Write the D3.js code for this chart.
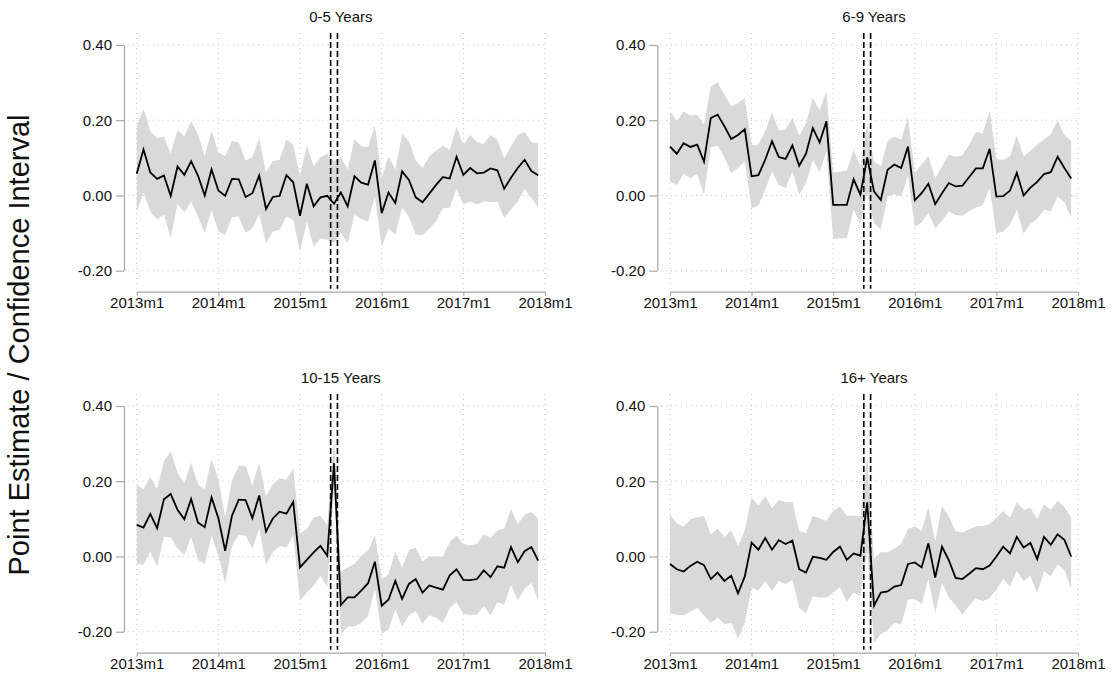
<!DOCTYPE html>
<html>
<head>
<meta charset="utf-8">
<script src="https://cdn.jsdelivr.net/npm/d3@7"></script>
<style>
  body { margin: 0; background: #fff; }
  svg { font-family: "Liberation Sans", Arial, sans-serif; }
  .grid line { stroke: #c4c4c4; stroke-width: 1; stroke-dasharray: 1,4; }
  .axis path, .axis line { stroke: #a6a6a6; stroke-width: 1.2; }
  .axis text { fill: #111; font-size: 15px; }
</style>
</head>
<body>
<div id="chart"></div>
<script>
var width = 1117;
var height = 689;

// months since 2013m1, tick labels
var tickMonths = [0, 12, 24, 36, 48, 60];
var tickLabels = ["2013m1", "2014m1", "2015m1", "2016m1", "2017m1", "2018m1"];
var yTicks = [-0.2, 0, 0.2, 0.4];
var breakLines = [28.5, 29.5];

var titles = ["0-5 Years", "6-9 Years", "10-15 Years", "16+ Years"];

// 0-5 Years
var estA = [0.058,0.122,0.061,0.044,0.053,-0.001,0.077,0.055,0.091,0.053,0.000,0.069,0.013,-0.001,0.044,0.043,-0.004,0.006,0.053,-0.036,
  -0.004,-0.001,0.054,0.035,-0.054,0.031,-0.029,-0.005,-0.001,-0.022,0.008,-0.029,0.051,0.034,0.029,0.093,-0.047,0.008,-0.020,0.064,
  0.041,-0.005,-0.018,0.005,0.028,0.049,0.045,0.103,0.055,0.073,0.059,0.061,0.072,0.067,0.018,0.047,0.073,0.095,0.065,0.054];
var hiA = [0.184,0.231,0.171,0.153,0.156,0.111,0.175,0.157,0.197,0.162,0.104,0.172,0.115,0.104,0.144,0.141,0.093,0.102,0.153,0.061,
  0.091,0.095,0.149,0.135,0.051,0.133,0.077,0.100,0.111,0.091,0.102,0.069,0.150,0.131,0.129,0.186,0.046,0.104,0.069,0.163,
  0.145,0.093,0.073,0.104,0.119,0.132,0.121,0.183,0.135,0.161,0.142,0.137,0.161,0.148,0.098,0.130,0.161,0.169,0.142,0.138];
var loA = [-0.045,0.008,-0.043,-0.063,-0.051,-0.114,-0.022,-0.045,-0.016,-0.056,-0.100,-0.038,-0.096,-0.105,-0.058,-0.056,-0.099,-0.087,-0.050,-0.127,
  -0.096,-0.091,-0.056,-0.065,-0.149,-0.069,-0.136,-0.114,-0.118,-0.127,-0.100,-0.127,-0.051,-0.063,-0.069,-0.003,-0.136,-0.087,-0.105,-0.032,
  -0.057,-0.104,-0.106,-0.088,-0.067,-0.034,-0.032,0.018,-0.024,-0.016,-0.024,-0.016,-0.018,-0.016,-0.059,-0.038,-0.016,0.018,-0.007,-0.031];

// 6-9 Years
var estB = [0.130,0.111,0.139,0.129,0.135,0.090,0.206,0.215,0.184,0.150,0.161,0.176,0.051,0.054,0.095,0.144,0.102,0.097,0.133,0.079,
  0.111,0.179,0.141,0.197,-0.025,-0.025,-0.025,0.043,0.002,0.101,0.011,-0.012,0.068,0.082,0.073,0.130,-0.013,0.006,0.031,-0.023,
  0.006,0.033,0.024,0.026,0.049,0.072,0.072,0.124,-0.003,-0.002,0.013,0.060,0.000,0.021,0.036,0.057,0.062,0.103,0.073,0.045];
var hiB = [0.223,0.197,0.223,0.212,0.215,0.188,0.290,0.301,0.268,0.238,0.246,0.259,0.134,0.135,0.170,0.221,0.173,0.175,0.206,0.159,
  0.192,0.259,0.226,0.277,0.061,0.064,0.066,0.121,0.077,0.188,0.090,0.077,0.144,0.157,0.148,0.208,0.061,0.082,0.105,0.045,
  0.078,0.109,0.103,0.106,0.135,0.169,0.165,0.225,0.096,0.095,0.104,0.159,0.104,0.119,0.135,0.148,0.163,0.199,0.161,0.145];
var loB = [0.037,0.028,0.058,0.046,0.058,0.002,0.129,0.132,0.102,0.059,0.073,0.090,-0.034,-0.027,0.015,0.064,0.028,0.020,0.064,0.002,
  0.033,0.095,0.061,0.117,-0.116,-0.114,-0.114,-0.038,-0.075,0.005,-0.074,-0.090,-0.003,0.004,-0.003,0.052,-0.084,-0.072,-0.045,-0.088,
  -0.067,-0.042,-0.052,-0.054,-0.041,-0.031,-0.026,0.021,-0.101,-0.096,-0.078,-0.038,-0.101,-0.076,-0.062,-0.038,-0.042,-0.003,-0.018,-0.059];

// 10-15 Years
var estC = [0.084,0.077,0.113,0.075,0.152,0.166,0.124,0.099,0.153,0.090,0.078,0.157,0.102,0.015,0.108,0.151,0.150,0.102,0.162,0.066,
  0.101,0.119,0.114,0.145,-0.029,-0.009,0.011,0.028,0.002,0.248,-0.129,-0.109,-0.109,-0.091,-0.071,-0.014,-0.131,-0.115,-0.065,-0.113,
  -0.073,-0.060,-0.096,-0.077,-0.083,-0.088,-0.050,-0.034,-0.062,-0.063,-0.060,-0.037,-0.055,-0.026,-0.030,0.025,-0.015,0.014,0.025,-0.011];
var hiC = [0.191,0.179,0.211,0.179,0.253,0.279,0.223,0.193,0.250,0.191,0.179,0.259,0.206,0.106,0.202,0.241,0.241,0.188,0.249,0.160,
  0.192,0.207,0.204,0.234,0.062,0.074,0.104,0.108,0.082,0.315,-0.041,-0.029,-0.020,0.002,0.015,0.057,-0.060,-0.047,0.012,-0.030,
  0.018,0.023,-0.013,0.000,0.000,0.000,0.038,0.056,0.033,0.030,0.033,0.059,0.049,0.069,0.074,0.126,0.085,0.111,0.118,0.100];
var loC = [-0.020,-0.022,0.013,-0.027,0.051,0.051,0.022,0.004,0.053,-0.009,-0.020,0.055,0.002,-0.071,0.028,0.058,0.056,0.020,0.074,-0.023,
  0.011,0.028,0.024,0.055,-0.118,-0.096,-0.078,-0.051,-0.082,0.180,-0.207,-0.186,-0.186,-0.176,-0.158,-0.085,-0.205,-0.195,-0.140,-0.187,
  -0.156,-0.145,-0.179,-0.156,-0.163,-0.176,-0.137,-0.122,-0.153,-0.155,-0.155,-0.132,-0.156,-0.122,-0.129,-0.075,-0.117,-0.086,-0.070,-0.117];

// 16+ Years
var estD = [-0.020,-0.034,-0.040,-0.025,-0.014,-0.023,-0.060,-0.043,-0.065,-0.051,-0.098,-0.053,0.037,0.018,0.049,0.018,0.043,0.033,0.042,-0.034,
  -0.043,-0.001,-0.004,-0.009,0.012,0.026,-0.009,0.008,0.002,0.144,-0.131,-0.096,-0.093,-0.080,-0.076,-0.020,-0.016,-0.029,0.035,-0.056,
  0.026,-0.010,-0.057,-0.060,-0.046,-0.031,-0.034,-0.024,0.000,0.026,0.008,0.052,0.024,0.036,-0.007,0.052,0.031,0.059,0.044,0.000];
var hiD = [0.110,0.088,0.079,0.099,0.104,0.108,0.058,0.074,0.052,0.070,0.028,0.070,0.157,0.135,0.160,0.128,0.150,0.144,0.145,0.068,
  0.062,0.108,0.101,0.095,0.121,0.133,0.108,0.108,0.106,0.268,-0.007,0.011,0.011,0.021,0.033,0.073,0.080,0.068,0.130,0.040,
  0.134,0.106,0.067,0.064,0.072,0.080,0.081,0.086,0.103,0.121,0.103,0.145,0.124,0.129,0.100,0.139,0.124,0.148,0.131,0.103];
var loD = [-0.151,-0.155,-0.156,-0.147,-0.136,-0.156,-0.177,-0.162,-0.180,-0.176,-0.218,-0.177,-0.082,-0.091,-0.065,-0.091,-0.065,-0.074,-0.062,-0.136,
  -0.151,-0.106,-0.109,-0.109,-0.096,-0.082,-0.121,-0.096,-0.105,0.020,-0.229,-0.207,-0.195,-0.176,-0.180,-0.115,-0.112,-0.127,-0.060,-0.151,
  -0.070,-0.110,-0.129,-0.155,-0.131,-0.111,-0.119,-0.111,-0.088,-0.059,-0.080,-0.038,-0.065,-0.052,-0.098,-0.039,-0.052,-0.021,-0.036,-0.088];

var estimates = [estA, estB, estC, estD];
var uppers = [hiA, hiB, hiC, hiD];
var lowers = [loA, loB, loC, loD];

// panel placement: pixel x of 2013m1 / 2018m1, pixel y of 0.40 / -0.20
var colX = [[136.7, 545], [670, 1078]];
var rowY = [[45, 270.7], [406, 631.7]];

var svg = d3.select("#chart").append("svg")
    .attr("width", width)
    .attr("height", height);

svg.append("text")
    .attr("transform", "translate(29," + 345 + ") rotate(-90)")
    .attr("text-anchor", "middle")
    .style("font-size", "29px")
    .style("fill", "#111")
    .text("Point Estimate / Confidence Interval");

titles.forEach((title, p) => {
    let cx = colX[p % 2];
    let ry = rowY[Math.floor(p / 2)];

    let x = d3.scaleLinear().domain([0, 60]).range(cx);
    let y = d3.scaleLinear().domain([-0.2, 0.4]).range([ry[1], ry[0]]);

    let left = cx[0] - 9, right = cx[1] + 3;
    let top = ry[0] - 12, bottom = ry[1] + 18;

    let g = svg.append("g");
    let data = estimates[p].map((v, i) => ({i: i, est: v, lo: lowers[p][i], hi: uppers[p][i]}));

    // grid
    let grid = g.append("g").attr("class", "grid");
    grid.selectAll(".hg").data(yTicks).enter().append("line")
        .attr("x1", left).attr("x2", right)
        .attr("y1", d => y(d)).attr("y2", d => y(d));
    grid.selectAll(".vg").data(tickMonths).enter().append("line")
        .attr("x1", d => x(d)).attr("x2", d => x(d))
        .attr("y1", top).attr("y2", bottom);

    // confidence band
    g.append("path")
        .datum(data)
        .attr("fill", "#d9d9d9")
        .attr("d", d3.area()
            .x(d => x(d.i))
            .y0(d => y(d.lo))
            .y1(d => y(d.hi)));

    // break lines
    g.selectAll(".brk").data(breakLines).enter().append("line")
        .attr("x1", d => x(d)).attr("x2", d => x(d))
        .attr("y1", top).attr("y2", bottom)
        .attr("stroke", "#000")
        .attr("stroke-width", 1.6)
        .attr("stroke-dasharray", "6,3");

    // point estimate
    g.append("path")
        .datum(data)
        .attr("fill", "none")
        .attr("stroke", "#000")
        .attr("stroke-width", 1.8)
        .attr("d", d3.line()
            .x(d => x(d.i))
            .y(d => y(d.est)));

    // axes
    g.append("g")
        .attr("class", "axis")
        .attr("transform", "translate(" + (cx[0] - 12.7) + ",0)")
        .call(d3.axisLeft(y)
            .tickValues(yTicks)
            .tickFormat(d => d.toFixed(2))
            .tickSize(8)
            .tickSizeOuter(0)
            .tickPadding(4));

    g.append("g")
        .attr("class", "axis")
        .attr("transform", "translate(0," + (ry[1] + 21) + ")")
        .call(d3.axisBottom(x)
            .tickValues(tickMonths)
            .tickFormat((d, i) => tickLabels[i])
            .tickSize(4)
            .tickSizeOuter(0)
            .tickPadding(2));

    g.append("text")
        .attr("x", (cx[0] + cx[1]) / 2)
        .attr("y", ry[0] - 23)
        .attr("text-anchor", "middle")
        .style("font-size", "15px")
        .style("fill", "#111")
        .text(title);
});
</script>
</body>
</html>
